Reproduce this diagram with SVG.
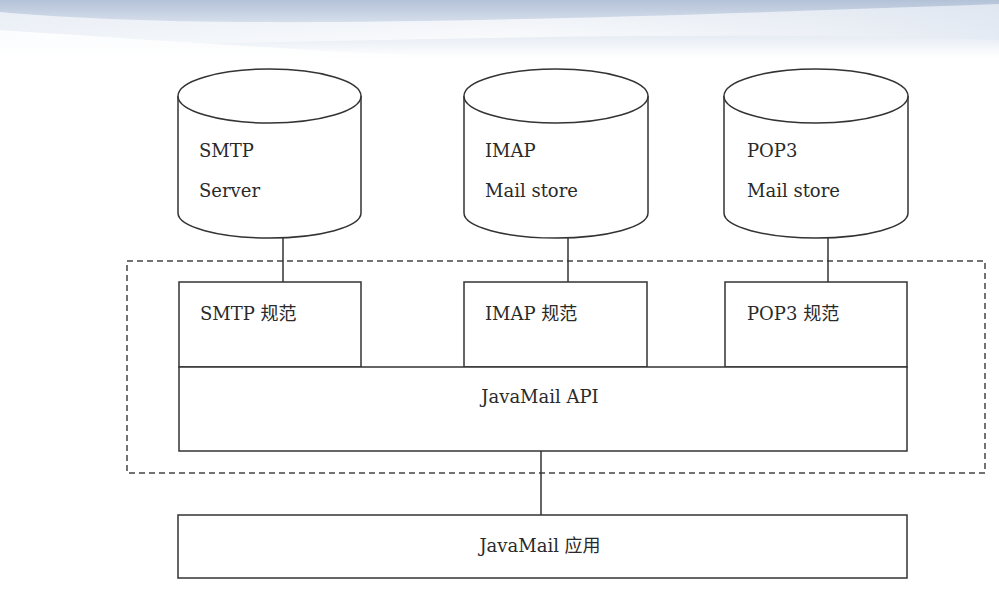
<svg xmlns="http://www.w3.org/2000/svg" width="999" height="595" viewBox="0 0 999 595">
  <defs>
    <linearGradient id="sky" x1="0" y1="0" x2="0" y2="1">
      <stop offset="0" stop-color="#b4c2d8"/>
      <stop offset="0.5" stop-color="#dfe6f0"/>
      <stop offset="1" stop-color="#ffffff"/>
    </linearGradient>
    <linearGradient id="swoosh" x1="0" y1="0" x2="1" y2="0">
      <stop offset="0" stop-color="#eef2f8" stop-opacity="0.9"/>
      <stop offset="0.5" stop-color="#ffffff" stop-opacity="0.7"/>
      <stop offset="1" stop-color="#e4eaf3" stop-opacity="0.9"/>
    </linearGradient>
  </defs>
  <style>
    .ln { fill: #ffffff; stroke: #333333; stroke-width: 1.5; }
    .cn { fill: none; stroke: #333333; stroke-width: 1.5; }
    .dash { fill: none; stroke: #444444; stroke-width: 1.5; stroke-dasharray: 6 4; }
    .t { font-family: "DejaVu Serif", "Noto Sans CJK SC", serif; font-size: 18px; fill: #2a2a2a; }
    .tm { text-anchor: middle; }
  </style>
  <rect x="0" y="0" width="999" height="595" fill="#ffffff"/>
  <rect x="0" y="0" width="999" height="58" fill="url(#sky)"/>
  <path d="M0,12 C200,30 500,22 999,4 L999,40 C700,30 400,40 0,48 Z" fill="url(#swoosh)"/>
  <path d="M0,30 C150,40 300,50 420,56 L0,58 Z" fill="#ffffff" opacity="0.8"/>

  <g id="dashed-boundary">
    <rect class="dash" x="127" y="261" width="858" height="212"/>
  </g>

  <g id="connectors">
    <line class="cn" x1="283" y1="238" x2="283" y2="282"/>
    <line class="cn" x1="568" y1="238" x2="568" y2="282"/>
    <line class="cn" x1="828" y1="238" x2="828" y2="282"/>
    <line class="cn" x1="541" y1="451" x2="541" y2="515"/>
  </g>

  <g id="smtp-server">
    <path class="ln" d="M178,96 L178,213 A91.5,25 0 0 0 361,213 L361,96"/>
    <ellipse class="ln" cx="269.5" cy="96" rx="91.5" ry="27"/>
    <text class="t" x="199" y="157">SMTP</text>
    <text class="t" x="199" y="197">Server</text>
  </g>
  <g id="imap-store">
    <path class="ln" d="M464,96 L464,213 A92,25 0 0 0 648,213 L648,96"/>
    <ellipse class="ln" cx="556" cy="96" rx="92" ry="27"/>
    <text class="t" x="485" y="157">IMAP</text>
    <text class="t" x="485" y="197">Mail store</text>
  </g>
  <g id="pop3-store">
    <path class="ln" d="M724,96 L724,213 A92,25 0 0 0 908,213 L908,96"/>
    <ellipse class="ln" cx="816" cy="96" rx="92" ry="27"/>
    <text class="t" x="747" y="157">POP3</text>
    <text class="t" x="747" y="197">Mail store</text>
  </g>

  <g id="smtp-spec">
    <rect class="ln" x="179" y="282" width="182" height="85"/>
    <text class="t" x="200" y="320">SMTP 规范</text>
  </g>
  <g id="imap-spec">
    <rect class="ln" x="464" y="282" width="183" height="85"/>
    <text class="t" x="485" y="320">IMAP 规范</text>
  </g>
  <g id="pop3-spec">
    <rect class="ln" x="725" y="282" width="182" height="85"/>
    <text class="t" x="747" y="320">POP3 规范</text>
  </g>

  <g id="javamail-api">
    <rect class="ln" x="179" y="367" width="728" height="84"/>
    <text class="t tm" x="540" y="403">JavaMail API</text>
  </g>

  <g id="javamail-app">
    <rect class="ln" x="178" y="515" width="729" height="63"/>
    <text class="t tm" x="540" y="552">JavaMail 应用</text>
  </g>
</svg>
